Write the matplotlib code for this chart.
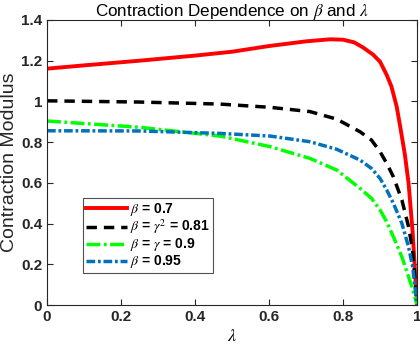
import matplotlib
matplotlib.use("Agg")
import matplotlib.pyplot as plt

# values
lam_red = [0, 0.1, 0.25, 0.4, 0.5, 0.6, 0.7, 0.765, 0.8, 0.83, 0.854, 0.881, 0.9, 0.918, 0.931,
           0.945, 0.956, 0.967, 0.977, 0.988, 1.0]
red = [1.161, 1.177, 1.200, 1.225, 1.244, 1.272, 1.295, 1.305, 1.303, 1.29, 1.265, 1.23, 1.195, 1.13, 1.072,
       0.974, 0.86, 0.74, 0.6, 0.36, 0.0]

lam = [0, 0.25, 0.468, 0.603, 0.711, 0.783, 0.846, 0.877, 0.9, 0.918, 0.936, 0.959, 0.977, 0.988, 1.0]
black = [1.003, 0.997, 0.987, 0.971, 0.95, 0.913, 0.851, 0.81, 0.753, 0.696, 0.63, 0.516, 0.385, 0.27, 0.0]
green = [0.904, 0.873, 0.83, 0.778, 0.72, 0.663, 0.573, 0.524, 0.467, 0.409, 0.336, 0.237, 0.139, 0.08, 0.0]
blue = [0.856, 0.855, 0.843, 0.83, 0.802, 0.765, 0.712, 0.671, 0.622, 0.565, 0.5, 0.401, 0.286, 0.19, 0.0]

labels = [r"$\beta$ = 0.7", r"$\beta$ = $\gamma^2$ = 0.81", r"$\beta$ = $\gamma$ = 0.9", r"$\beta$ = 0.95"]

plt.rcParams["font.family"] = ["Liberation Sans", "DejaVu Sans"]
plt.rcParams["mathtext.fontset"] = "stix"

fig = plt.figure(figsize=(4.2, 3.44), dpi=100)
ax = fig.add_axes([0.112, 0.113, 0.881, 0.829])

ax.plot(lam_red, red, color="#ff0000", lw=2.8, label=labels[0])
ax.plot(lam, black, color="black", lw=2.5, ls=(0, (3, 2)), label=labels[1])
ax.plot(lam, green, color="#00ff00", lw=2.5, ls=(0, (4, 1, 0.8, 1)), label=labels[2])
ax.plot(lam, blue, color="#0072bd", lw=2.5, ls=(0, (2.5, 0.8, 0.8, 0.8)), label=labels[3])

ax.set_xlim(0, 1)
ax.set_ylim(0, 1.4)
ax.set_xticks([0, 0.2, 0.4, 0.6, 0.8, 1])
ax.set_xticklabels(["0", "0.2", "0.4", "0.6", "0.8", "1"])
ax.set_yticks([0, 0.2, 0.4, 0.6, 0.8, 1, 1.2, 1.4])
ax.set_yticklabels(["0", "0.2", "0.4", "0.6", "0.8", "1", "1.2", "1.4"])
ax.tick_params(direction="in", top=True, right=True, length=4, width=0.8,
               labelsize=11, colors="#262626")
for t in ax.get_xticklabels() + ax.get_yticklabels():
    t.set_fontweight("bold")
for s in ax.spines.values():
    s.set_color("#262626")
    s.set_linewidth(0.8)

ax.set_xlabel(r"$\lambda$", fontsize=13, labelpad=3)
ax.set_ylabel("Contraction Modulus", fontsize=14, labelpad=2, color="#262626")
ax.set_title(r"Contraction Dependence on $\beta$ and $\lambda$", fontsize=12.3, pad=2.5)

leg = ax.legend(loc="lower left", bbox_to_anchor=(0.097, 0.112), borderaxespad=0,
                frameon=True, fancybox=False,
                edgecolor="#262626", prop={"weight": "bold", "size": 10},
                handlelength=3.0, handletextpad=0.2, labelspacing=0.0, borderpad=0.2)
leg.get_frame().set_linewidth(0.8)

fig.savefig("out.png", dpi=100)
